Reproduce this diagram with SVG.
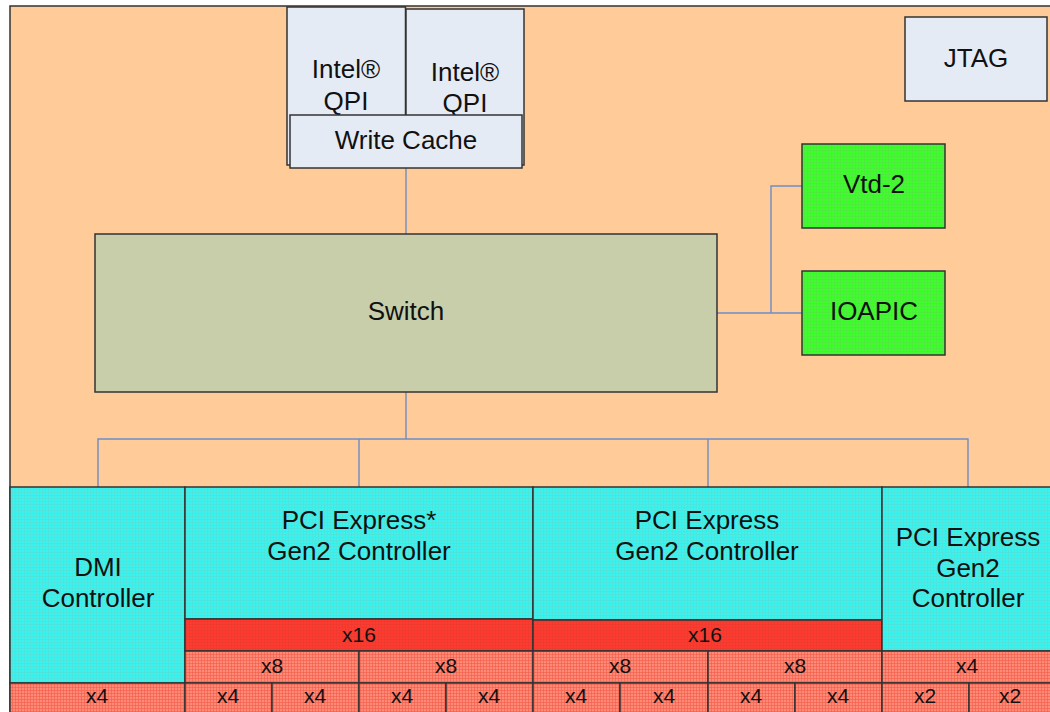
<svg xmlns="http://www.w3.org/2000/svg" width="1050" height="712" viewBox="0 0 1050 712">
<defs>
<pattern id="hatchC" width="3" height="3" patternUnits="userSpaceOnUse"><rect width="3" height="3" fill="#38F4F0"/><path d="M0 0.5H3M0.5 0V3" stroke="#5ADCD4" stroke-width="0.6"/></pattern>
<pattern id="hatchR" width="3" height="3" patternUnits="userSpaceOnUse"><rect width="3" height="3" fill="#FF3A2E"/><path d="M0 0.5H3M0.5 0V3" stroke="#E83A30" stroke-width="0.6"/></pattern>
<pattern id="hatchL" width="3" height="3" patternUnits="userSpaceOnUse"><rect width="3" height="3" fill="#FF8A78"/><path d="M0 0.5H3M0.5 0V3" stroke="#F25A48" stroke-width="0.6"/></pattern>
<pattern id="hatchG" width="3" height="3" patternUnits="userSpaceOnUse"><rect width="3" height="3" fill="#3CFF2A"/><path d="M0 0.5H3M0.5 0V3" stroke="#58E048" stroke-width="0.6"/></pattern>
</defs>
<style>
text{font-family:"Liberation Sans",Arial,sans-serif;fill:#111;text-anchor:middle}
.big{font-size:26px}
.sm{font-size:21px}
.box{stroke:#333;stroke-width:1.5}
.lav{fill:#E5EBF5}
.cy{fill:url(#hatchC)}
.red{fill:url(#hatchR)}
.lt{fill:url(#hatchL)}
.gr{fill:url(#hatchG)}
.con{fill:none;stroke:#6F8CC6;stroke-width:1.4}
</style>
<rect width="1050" height="712" fill="#FFFFFF"/>
<rect id="die" x="10" y="6" width="1045" height="712" fill="#FFCC99" stroke="#333" stroke-width="1.5"/>

<g id="connectors">
<path class="con" d="M406 168V234"/>
<path class="con" d="M717 313H802M771 313V186H802"/>
<path class="con" d="M406 392V439M98 487V439H968V487M359 439V487M708 439V487"/>
</g>

<g id="qpi1"><rect class="box lav" x="287" y="7" width="118.5" height="158"/><text class="big" x="346" y="78">Intel®</text><text class="big" x="346" y="110">QPI</text></g>
<g id="qpi2"><rect class="box lav" x="406" y="9" width="118" height="156"/><text class="big" x="465" y="81">Intel®</text><text class="big" x="465" y="112">QPI</text></g>
<g id="writecache"><rect class="box lav" x="290" y="115" width="232" height="53"/><text class="big" x="406" y="149">Write Cache</text></g>
<g id="jtag"><rect class="box lav" x="905" y="17" width="142" height="84"/><text class="big" x="976" y="67">JTAG</text></g>
<g id="switch"><rect class="box" fill="#C8CEAA" x="95" y="234" width="622" height="158"/><text class="big" x="406" y="320">Switch</text></g>
<g id="vtd2"><rect class="box gr" x="802" y="144" width="143" height="84"/><text class="big" x="874" y="193">Vtd-2</text></g>
<g id="ioapic"><rect class="box gr" x="802" y="271" width="143" height="84"/><text class="big" x="874" y="320">IOAPIC</text></g>

<g id="dmi">
<rect class="box cy" x="10" y="487" width="175" height="196"/>
<text class="big" x="98" y="576">DMI</text><text class="big" x="98" y="607">Controller</text>
<rect class="box lt" x="10" y="683" width="175" height="40"/><text class="sm" x="97" y="703">x4</text>
</g>

<g id="pcie1">
<rect class="box cy" x="185" y="487" width="348" height="132"/>
<text class="big" x="359" y="529">PCI Express*</text><text class="big" x="359" y="560">Gen2 Controller</text>
<rect class="box red" x="185" y="619" width="348" height="32"/><text class="sm" x="359" y="642">x16</text>
<rect class="box lt" x="185" y="651" width="174" height="32"/><text class="sm" x="272" y="673">x8</text>
<rect class="box lt" x="359" y="651" width="174" height="32"/><text class="sm" x="446" y="673">x8</text>
<rect class="box lt" x="185" y="683" width="87" height="40"/><text class="sm" x="228" y="703">x4</text>
<rect class="box lt" x="272" y="683" width="87" height="40"/><text class="sm" x="315" y="703">x4</text>
<rect class="box lt" x="359" y="683" width="87" height="40"/><text class="sm" x="402" y="703">x4</text>
<rect class="box lt" x="446" y="683" width="87" height="40"/><text class="sm" x="489" y="703">x4</text>
</g>

<g id="pcie2">
<rect class="box cy" x="533" y="487" width="349" height="133"/>
<text class="big" x="707" y="529">PCI Express</text><text class="big" x="707" y="560">Gen2 Controller</text>
<rect class="box red" x="533" y="620" width="349" height="31"/><text class="sm" x="705" y="642">x16</text>
<rect class="box lt" x="533" y="651" width="175" height="32"/><text class="sm" x="620" y="673">x8</text>
<rect class="box lt" x="708" y="651" width="174" height="32"/><text class="sm" x="795" y="673">x8</text>
<rect class="box lt" x="533" y="683" width="87" height="40"/><text class="sm" x="576" y="703">x4</text>
<rect class="box lt" x="620" y="683" width="88" height="40"/><text class="sm" x="664" y="703">x4</text>
<rect class="box lt" x="708" y="683" width="87" height="40"/><text class="sm" x="751" y="703">x4</text>
<rect class="box lt" x="795" y="683" width="87" height="40"/><text class="sm" x="838" y="703">x4</text>
</g>

<g id="pcie3">
<rect class="box cy" x="882" y="487" width="175" height="164"/>
<text class="big" x="968" y="546">PCI Express</text><text class="big" x="968" y="577">Gen2</text><text class="big" x="968" y="607">Controller</text>
<rect class="box lt" x="882" y="651" width="175" height="32"/><text class="sm" x="967" y="673">x4</text>
<rect class="box lt" x="882" y="683" width="87" height="40"/><text class="sm" x="925" y="703">x2</text>
<rect class="box lt" x="969" y="683" width="88" height="40"/><text class="sm" x="1010" y="703">x2</text>
</g>
</svg>
